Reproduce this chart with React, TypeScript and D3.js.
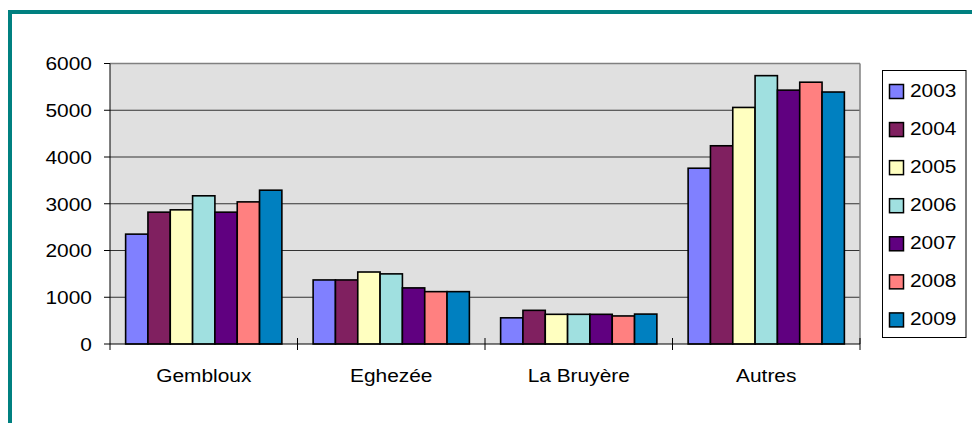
import React from 'react';
import * as d3 from 'd3';

// Data
const communes = ['Gembloux', 'Eghezée', 'La Bruyère', 'Autres'];
const years = ['2003', '2004', '2005', '2006', '2007', '2008', '2009'];
const gembloux = [2350, 2820, 2870, 3170, 2820, 3040, 3290];
const eghezee = [1370, 1370, 1540, 1500, 1200, 1120, 1120];
const laBruyere = [560, 720, 635, 635, 635, 600, 640];
const autres = [3760, 4240, 5060, 5740, 5430, 5600, 5390];
const yTicks = [0, 1000, 2000, 3000, 4000, 5000, 6000];
const yearColors = ['#8080ff', '#802060', '#ffffc0', '#a0e0e0', '#600080', '#ff8080', '#0080c0'];

const valuesByCommune = [gembloux, eghezee, laBruyere, autres];

const W = 972;
const H = 423;
const plot = { left: 110, right: 860, top: 63.5, bottom: 344 };
const font = '"Liberation Sans", Arial, sans-serif';
const fs = 19;
const sx = 1.1; // the original text is slightly stretched horizontally

const Label = ({ x, y, anchor = 'start', children }: any) => (
  <g transform={`translate(${x},${y}) scale(${sx},1)`}>
    <text fontFamily={font} fontSize={fs} fill="#000" textAnchor={anchor}>
      {children}
    </text>
  </g>
);

export default function App() {
  const x = d3.scaleBand<string>().domain(communes).range([plot.left, plot.right]);
  const xYear = d3.scaleBand<string>().domain(years).range([0, x.bandwidth()]).paddingInner(0).paddingOuter(0.7);
  const y = d3.scaleLinear().domain([0, 6000]).range([plot.bottom, plot.top]);
  const color = d3.scaleOrdinal<string, string>().domain(years).range(yearColors);

  const catEdges = [...communes.map(c => x(c)!), plot.right];

  return (
    <svg width={W} height={H} style={{ position: 'absolute', left: 0, top: 0, background: '#fff' }}>
      {/* teal frame */}
      <rect x={8} y={10} width={W - 8} height={4} fill="#008080" />
      <rect x={8} y={10} width={4} height={H - 10} fill="#008080" />

      {/* plot area */}
      <rect x={plot.left} y={plot.top} width={plot.right - plot.left} height={plot.bottom - plot.top} fill="#e0e0e0" />
      {yTicks.slice(1, -1).map(t => (
        <line key={t} x1={plot.left} x2={plot.right} y1={y(t)} y2={y(t)} stroke="#333" strokeWidth={1} />
      ))}
      <line x1={plot.left} x2={plot.right} y1={plot.top} y2={plot.top} stroke="#808080" strokeWidth={1.5} />
      <line x1={plot.right} x2={plot.right} y1={plot.top} y2={plot.bottom} stroke="#808080" strokeWidth={1.5} />

      {/* bars */}
      {communes.map((c, ci) => (
        <g key={c} transform={`translate(${x(c)},0)`}>
          {years.map((yr, yi) => (
            <rect
              key={yr}
              x={xYear(yr)}
              y={y(valuesByCommune[ci][yi])}
              width={xYear.bandwidth()}
              height={y(0) - y(valuesByCommune[ci][yi])}
              fill={color(yr)}
              stroke="#000"
              strokeWidth={1.6}
            />
          ))}
        </g>
      ))}

      {/* y axis */}
      <line x1={plot.left} x2={plot.left} y1={plot.top} y2={plot.bottom} stroke="#000" strokeWidth={1} />
      {yTicks.map(t => (
        <g key={t}>
          <line x1={plot.left - 6} x2={plot.left} y1={y(t)} y2={y(t)} stroke="#000" strokeWidth={1} />
          <Label x={92} y={y(t) + 6.8} anchor="end">{t}</Label>
        </g>
      ))}

      {/* x axis */}
      <line x1={plot.left} x2={plot.right} y1={plot.bottom} y2={plot.bottom} stroke="#000" strokeWidth={1} />
      {catEdges.map((e, i) => (
        <line key={i} x1={e} x2={e} y1={i === 0 ? plot.bottom : plot.bottom - 6} y2={plot.bottom + 6} stroke="#000" strokeWidth={1} />
      ))}
      {communes.map(c => (
        <Label key={c} x={x(c)! + x.bandwidth() / 2} y={381.5} anchor="middle">{c}</Label>
      ))}

      {/* legend */}
      <rect x={882.5} y={70.5} width={83.5} height={267} fill="#fff" stroke="#000" strokeWidth={1} />
      {years.map((yr, i) => {
        const ty = 84.5 + i * 38.07;
        return (
          <g key={yr}>
            <rect x={889.5} y={ty} width={14} height={14} fill={color(yr)} stroke="#000" strokeWidth={1.5} />
            <Label x={910} y={ty + 12}>{yr}</Label>
          </g>
        );
      })}
    </svg>
  );
}
